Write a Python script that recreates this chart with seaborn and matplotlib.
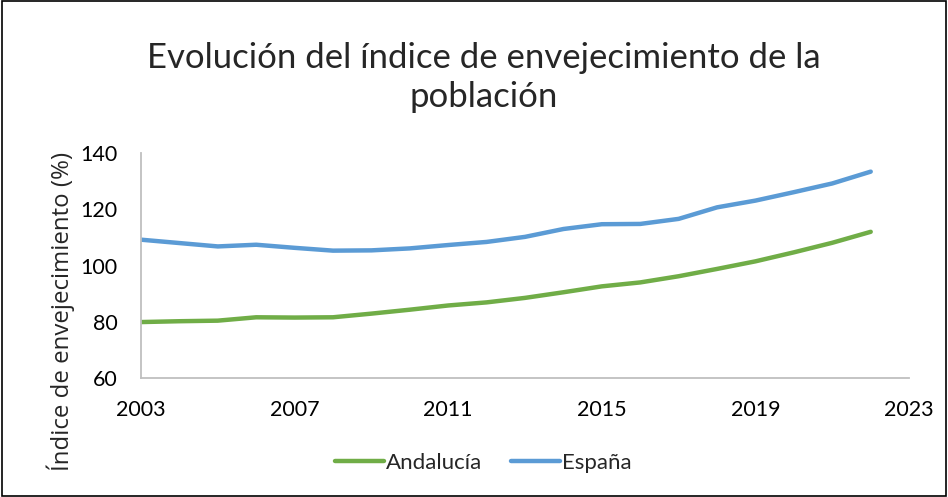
import matplotlib
matplotlib.use("Agg")
import matplotlib.pyplot as plt
import seaborn as sns
import pandas as pd
from matplotlib.patches import Rectangle
from matplotlib.lines import Line2D

years = list(range(2003, 2023))
andalucia = [79.9, 80.2, 80.4, 81.6, 81.5, 81.6, 82.9, 84.3, 85.8, 86.9,
             88.5, 90.5, 92.6, 94.0, 96.2, 98.8, 101.5, 104.7, 108.1, 112.0]
espana = [109.2, 108.0, 106.8, 107.4, 106.3, 105.3, 105.4, 106.1, 107.3, 108.4,
          110.2, 113.0, 114.7, 114.8, 116.6, 120.7, 123.1, 126.1, 129.2, 133.4]
series_names = ["Andalucía", "España"]
colors = ["#70AD47", "#5B9BD5"]
xticks = [2003, 2007, 2011, 2015, 2019, 2023]
yticks = [60, 80, 100, 120, 140]

df = pd.DataFrame({
    "Año": years * 2,
    "Valor": andalucia + espana,
    "Serie": [series_names[0]] * len(years) + [series_names[1]] * len(years),
})

sns.set_theme(style="white")
plt.rcParams["font.family"] = ["Lato", "DejaVu Sans"]

fig = plt.figure(figsize=(9.48, 4.97), dpi=100)
ax = fig.add_axes([0.1487, 0.2394, 0.959 - 0.1487, 0.692 - 0.2394])

sns.lineplot(data=df, x="Año", y="Valor", hue="Serie", palette=colors,
             linewidth=3.2, ax=ax, legend=False)

ax.set_xlim(2003, 2023)
ax.set_ylim(60, 140)
ax.set_xticks(xticks)
ax.set_yticks(yticks)
ax.tick_params(axis="both", length=0, labelsize=15.5, colors="#000000")
ax.tick_params(axis="x", pad=16)
ax.tick_params(axis="y", pad=17)
ax.set_xlabel("")
ax.set_ylabel("Índice de envejecimiento (%)", fontsize=17.3,
              family=["Open Sans", "DejaVu Sans"])
ax.yaxis.set_label_coords(-0.086, 0.295)
for s in ["top", "right"]:
    ax.spines[s].set_visible(False)
for s in ["left", "bottom"]:
    ax.spines[s].set_color("#BFBFBF")
    ax.spines[s].set_linewidth(1.3)
ax.grid(False)

fig.text(0.51, 0.844, "Evolución del índice de envejecimiento de la\npoblación",
         ha="center", va="center", fontsize=25, linespacing=1.3)

handles = [Line2D([0], [0], color=c, lw=3.2) for c in colors]
leg = fig.legend(handles, series_names, loc="center", bbox_to_anchor=(0.51, 0.068),
                 ncol=2, frameon=False, fontsize=16, handlelength=2.2,
                 handletextpad=0.1, columnspacing=1.3)

fig.patches.append(Rectangle((0.002, 0.002), 0.996, 0.996, transform=fig.transFigure,
                             fill=False, edgecolor="#000000", linewidth=1.2))

fig.savefig("out.png", dpi=100)
